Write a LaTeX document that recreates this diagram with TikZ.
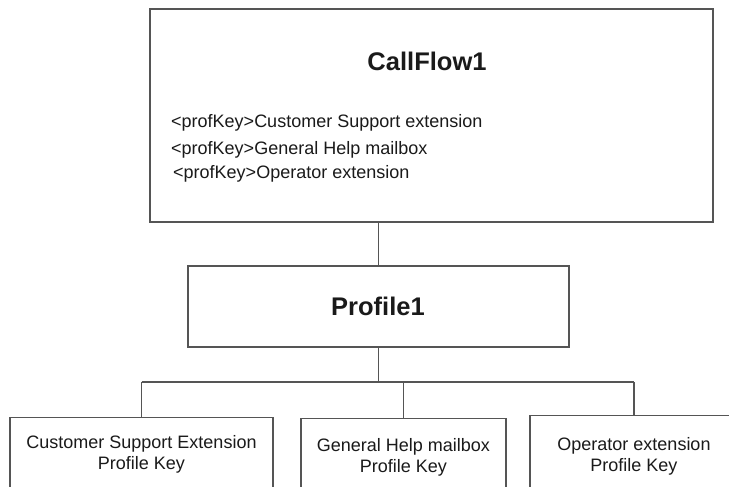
\documentclass[tikz,border=0pt]{standalone}
\usepackage{fontspec}
\setmainfont{Liberation Sans}
\begin{document}
\begin{tikzpicture}[x=1pt,y=-1pt,
  box/.style={draw=linegray, line width=1.3pt, fill=white, rectangle, inner sep=0pt},
  conn/.style={draw=linegray, line width=1.2pt},
  title/.style={font=\fontsize{25.5}{30}\selectfont\bfseries, text=textblack, inner sep=0pt, anchor=base},
  lbl/.style={font=\fontsize{18}{21}\selectfont, text=textblack, inner sep=0pt},
]
\definecolor{linegray}{HTML}{555555}
\definecolor{textblack}{HTML}{1A1A1A}
\useasboundingbox[fill=white] (0,0) rectangle (729,487);
% boxes
\node[box, minimum width=563pt, minimum height=213pt] (top) at (431.5,115.5) {};
\node[box, minimum width=381pt, minimum height=81pt] (prof) at (378.5,306.5) {};
\node[box, minimum width=263pt, minimum height=100pt, anchor=north] (b1) at (141.5,417) {};
\node[box, minimum width=205pt, minimum height=100pt, anchor=north] (b2) at (403.5,418) {};
\node[box, minimum width=208pt, minimum height=100pt, anchor=north] (b3) at (634,415) {};
% titles
\node[title] (t1) at (427,71) {CallFlow1};
\node[title] (t2) at (378,315) {Profile1};
% top box lines
\node[lbl, anchor=base west] (l1) at (171,128) {<profKey>Customer Support extension};
\node[lbl, anchor=base west] (l2) at (171,154) {<profKey>General Help mailbox};
\node[lbl, anchor=base west] (l3) at (173,178) {<profKey>Operator extension};
% bottom box texts
\node[lbl, anchor=base] (b1a) at (141.5,448) {Customer Support Extension};
\node[lbl, anchor=base] (b1b) at (141.5,469) {Profile Key};
\node[lbl, anchor=base] (b2a) at (403.5,451) {General Help mailbox};
\node[lbl, anchor=base] (b2b) at (403.5,472) {Profile Key};
\node[lbl, anchor=base] (b3a) at (634,450) {Operator extension};
\node[lbl, anchor=base] (b3b) at (634,471) {Profile Key};
% connectors
\coordinate (bus) at (378.5,382);
\draw[conn] (prof.north) -- (prof.north |- top.south);
\draw[conn] (prof.south) -- (bus);
\draw[conn] (b1.north |- bus) -- (b3.north |- bus);
\draw[conn] (b1.north |- bus) -- (b1.north);
\draw[conn] (b2.north |- bus) -- (b2.north);
\draw[conn] (b3.north |- bus) -- (b3.north);
\end{tikzpicture}
\end{document}
